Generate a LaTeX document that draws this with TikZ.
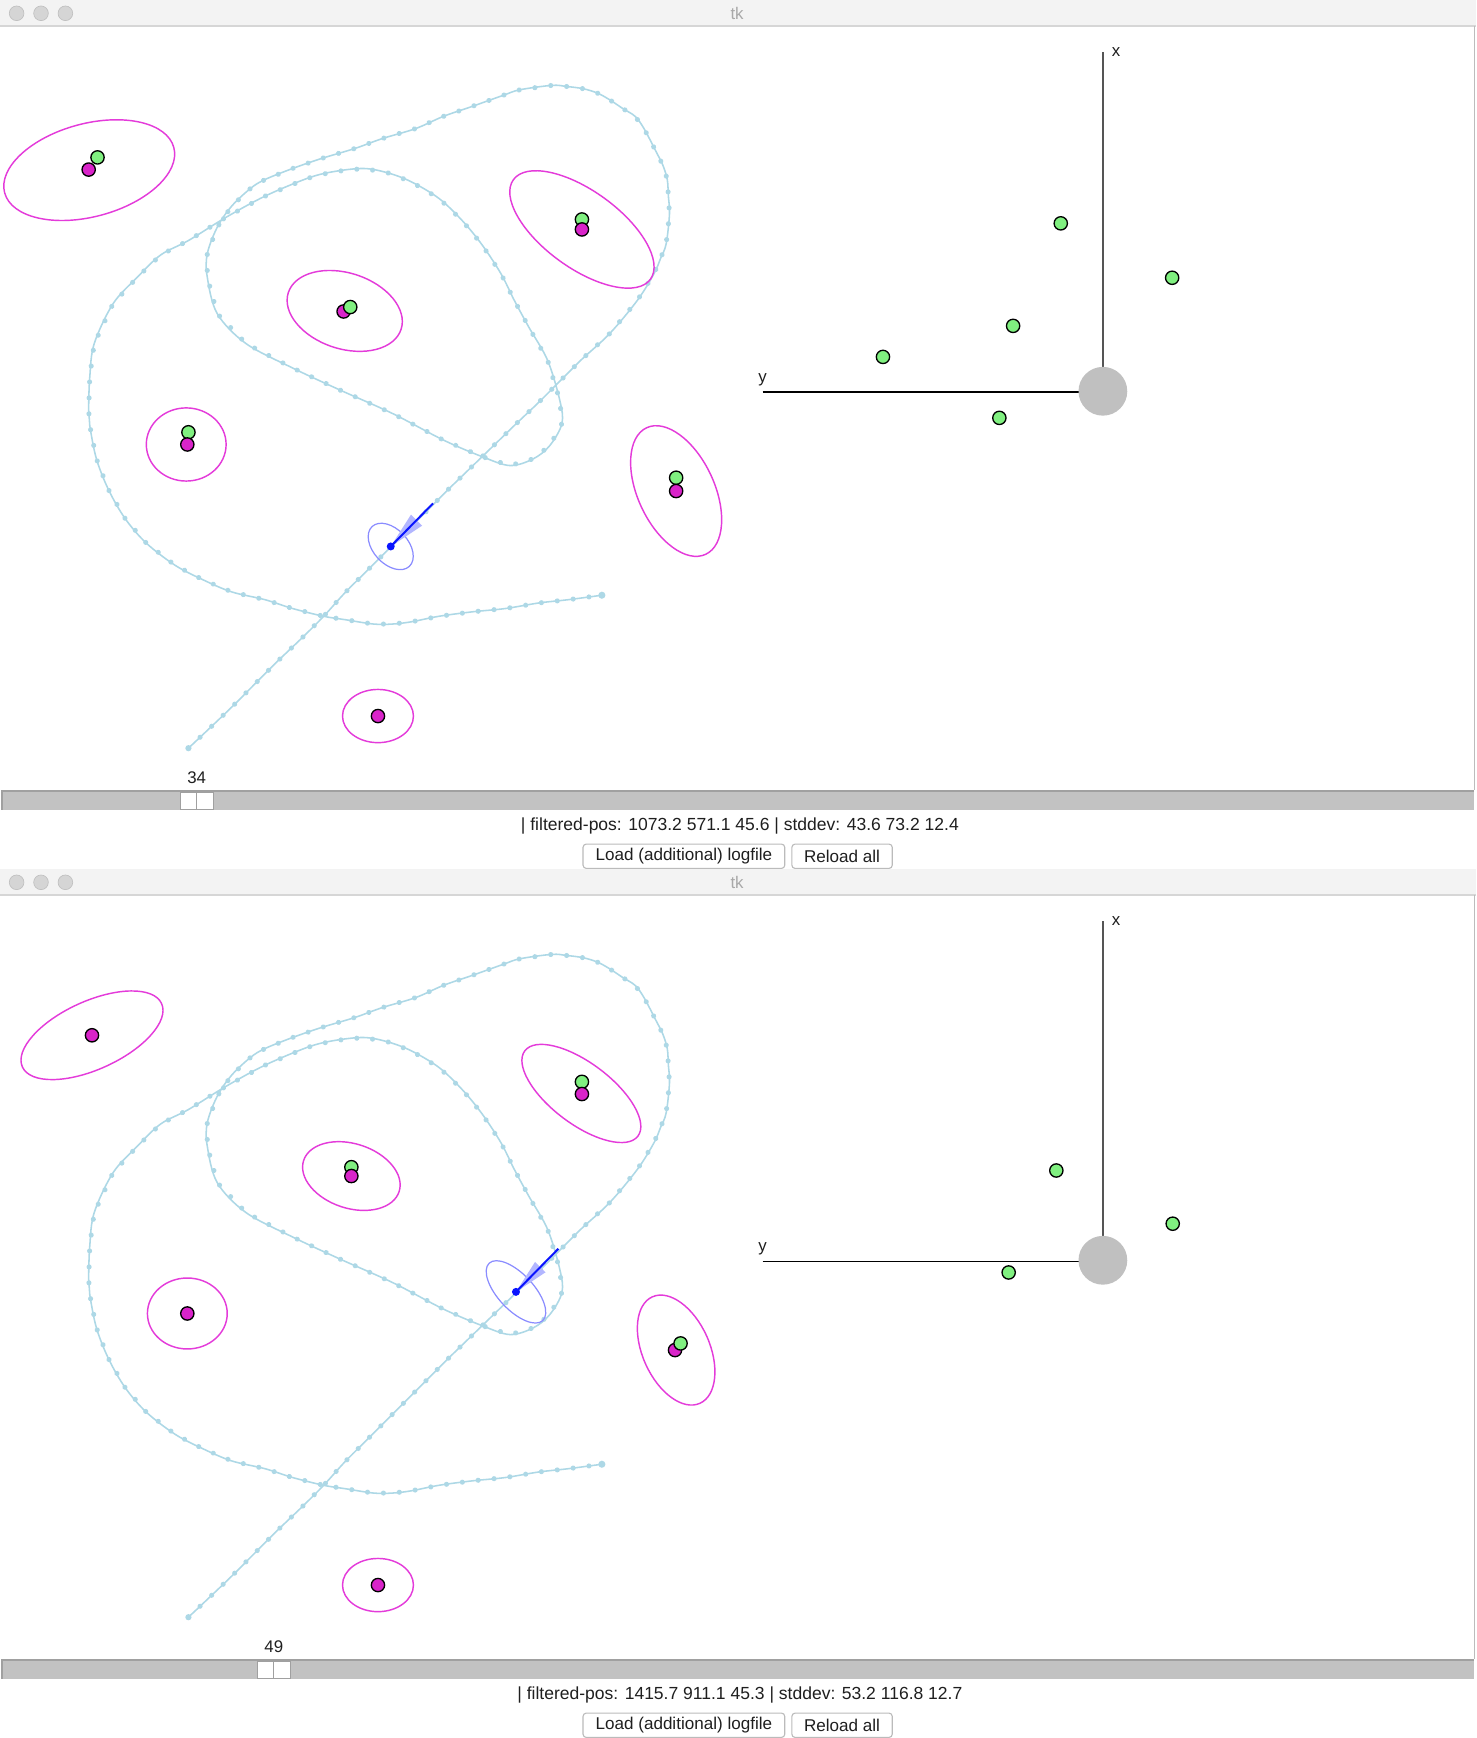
\documentclass[tikz,border=0pt]{standalone}
\usepackage{fontspec}
\setmainfont{Liberation Sans}
\usetikzlibrary{decorations.markings}
\definecolor{trajc}{HTML}{ADD8E6}
\definecolor{lmmag}{HTML}{D924C9}
\definecolor{ellmag}{HTML}{E43BDA}
\definecolor{lmgreen}{HTML}{80F080}
\definecolor{robc}{HTML}{0A14FF}
\definecolor{robell}{HTML}{8A8CFF}
\definecolor{wedgec}{HTML}{B2B6FF}
\definecolor{barbg}{HTML}{F3F3F3}
\definecolor{barline}{HTML}{D6D6D6}
\definecolor{lightc}{HTML}{D5D5D5}
\definecolor{troughc}{HTML}{C2C2C2}
\definecolor{troughedge}{HTML}{A0A0A0}
\definecolor{btnedge}{HTML}{BBBBBB}
\definecolor{titlegray}{HTML}{A8A8A8}
\definecolor{axgray}{HTML}{555555}
\definecolor{robotgray}{HTML}{C0C0C0}
\newcommand\trajpoints{(170,675) (187,659) (209,638) (230,617) (251,596) (273,575) (292,556) (311,535)
      (332,514) (354,492) (373,473) (392,454) (405,441) (435,412) (466,382) (485,364)
      (503,346) (524,325) (550,301) (575,271) (590,247) (596,233) (601,220) (604,193)
      (603,177) (602,162) (598,149) (592,137) (581,116) (573,105) (562,98) (550,90)
      (539,84) (526,80) (511,78) (498,77) (469,81) (454,86) (426,96) (400,105)
      (375,116) (345,125) (320,134) (290,143) (264,152) (239,162) (226,170) (209,186)
      (196,205) (187,229) (187,250) (196,283) (222,310) (264,332) (307,352) (354,373)
      (400,397) (435,412) (460,420) (481,414) (496,402) (507,382) (505,361) (494,325)
      (477,295) (464,271) (452,247) (435,221) (417,199) (396,179) (371,164) (350,156)
      (328,152) (300,155) (277,161) (239,177) (204,196) (170,217) (145,230) (124,250)
      (102,274) (85,310) (81,340) (80,370) (81,384) (87,414) (98,442) (113,468)
      (132,490) (158,510) (183,523) (209,534) (239,541) (264,549) (292,556) (311,559)
      (337,563) (354,563) (371,561) (396,556) (426,552) (456,549) (486,544) (513,541)
      (543,537)}
\tikzset{
  uitext/.style={inner sep=0pt, font=\fontsize{7.6}{9}\selectfont, text=black!88},
  infotext/.style={inner sep=0pt, font=\fontsize{7.9}{9}\selectfont, text=black!88},
  trajline/.style={draw=trajc, line width=0.7pt},
  trajmarks/.style={decorate, decoration={markings,
      mark=between positions 0 and 1 step 7.2pt with {\fill[trajc] (0,0) circle (1.15pt);}}},
  dotline/.style={draw=black, line width=0.6pt},
  ellline/.style={draw=ellmag, line width=0.65pt},
  btnbox/.style={draw=btnedge, fill=white, rounded corners=1.5pt, line width=0.5pt,
    minimum height=11pt, inner sep=0pt, font=\fontsize{7.7}{9}\selectfont, text=black!88},
}
\newcommand\trajectory{%
  \draw[trajline] plot[smooth, tension=0.55] coordinates {\trajpoints};
  \path[trajmarks] plot coordinates {\trajpoints};
  \fill[trajc] (543,537) circle (1.6pt);
  \fill[trajc] (170,675) circle (1.4pt);
}
\newcommand\lmmag[1]{\filldraw[fill=lmmag, dotline] (#1) circle (3pt);}
\newcommand\lmgrn[1]{\filldraw[fill=lmgreen, dotline] (#1) circle (3pt);}
\newcommand\lmell[4]{\draw[ellline, rotate around={#4:(#1)}] (#1) ellipse (#2 and #3);}
% center, a, b, rotation, heading angle, wedge radius
\newcommand\robotpose[6]{%
  \draw[robell, line width=0.55pt, rotate around={#4:(#1)}] (#1) ellipse (#2 and #3);
  \fill[wedgec] (#1) -- +(#5+12:#6) -- +(#5-12:#6) -- cycle;
  \draw[robc, line width=0.9pt] (#1) -- +(#5:54.5);
  \fill[robc] (#1) circle (1.8pt);
}
% slider label, handle left x, info text, name suffix
\newcommand\panelchrome[4]{%
  \fill[barbg] (0,0) rectangle (1332,23.5);
  \draw[barline, line width=0.6pt] (0,23.5) -- (1332,23.5);
  \filldraw[fill=lightc, draw=lightc!90!black, line width=0.3pt] (15,12) circle (3.3pt);
  \filldraw[fill=lightc, draw=lightc!90!black, line width=0.3pt] (37,12) circle (3.3pt);
  \filldraw[fill=lightc, draw=lightc!90!black, line width=0.3pt] (59,12) circle (3.3pt);
  \node[uitext, text=titlegray] (title#4) at (665,12) {tk};
  \draw[troughedge!70, line width=0.5pt] (1330.5,23.5) -- (1330.5,713);
  \fill[troughc] (1.5,713) rectangle (1329.5,731);
  \draw[troughedge, line width=0.6pt] (1.5,713.6) -- (1329.5,713.6);
  \draw[troughedge, line width=0.5pt] (1.8,713) -- (1.8,731);
  \filldraw[fill=white, draw=troughedge, line width=0.4pt] (#2,715) rectangle ++(15,15);
  \filldraw[fill=white, draw=troughedge, line width=0.4pt] (#2+15,715) rectangle ++(15,15);
  \node[uitext] (slider#4) at (#2+15,702) {#1};
  \node[infotext] (info#4) at (667.5,745.5) {#3};
  \node[btnbox, minimum width=91pt] (load#4) at (617,772.5) {Load (additional) logfile};
  \node[btnbox, minimum width=45.3pt] (reload#4) at (759.7,772.5) {Reload all};
  % right-hand panel axes
  \draw[axgray, line width=0.6pt] (995,47) -- (995,340);
  \draw[black, line width=0.8pt] (688,354) -- (975,354);
  \fill[robotgray] (995,353) circle (11pt);
  \node[uitext] (xlab#4) at (1007,47) {x};
  \node[uitext] (ylab#4) at (688,343) {y};
}

\begin{document}
\begin{tikzpicture}[x=0.5pt, y=-0.5pt]
\useasboundingbox (0,0) rectangle (1332,1568);
\fill[white] (0,0) rectangle (1332,1568);

% ================= panel 1 =================
\begin{scope}
  \panelchrome{34}{162.5}{| filtered-pos: 1073.2 571.1 45.6 | stddev: 43.6 73.2 12.4}{A}
  \trajectory
  \lmell{80.5,153.5}{79}{42}{15}
  \lmell{311,280.5}{53.5}{34.2}{-18}
  \lmell{525,207}{76.4}{34.7}{-36}
  \lmell{168,401}{36}{33}{0}
  \lmell{610,443}{63}{34.5}{-65}
  \lmell{341,646}{32}{24}{0}
  \lmmag{80,153} \lmgrn{88,142}
  \lmmag{310,281} \lmgrn{316,277}
  \lmgrn{525,198} \lmmag{525,207}
  \lmgrn{170,390} \lmmag{169,401}
  \lmgrn{610,431} \lmmag{610,443}
  \lmmag{341,646}
  \robotpose{352.5,493}{24.6}{15.7}{-47}{-45.5}{34}
  % right panel landmarks
  \lmgrn{957,201.5} \lmgrn{1057.5,250.6} \lmgrn{914,294} \lmgrn{796.6,322} \lmgrn{901.6,377}
\end{scope}

% ================= panel 2 =================
\begin{scope}[shift={(0,784)}]
  \panelchrome{49}{232}{| filtered-pos: 1415.7 911.1 45.3 | stddev: 53.2 116.8 12.7}{B}
  \trajectory
  \lmell{83,150}{69}{30.7}{24.5}
  \lmell{317,277}{45.3}{29.1}{-18}
  \lmell{524.5,202.5}{63.9}{27.5}{-37}
  \lmell{169,401}{36}{32}{0}
  \lmell{610,434}{52.6}{30.3}{-66}
  \lmell{341,646}{32}{24}{0}
  \lmmag{83,150}
  \lmgrn{317,269} \lmmag{317,277}
  \lmgrn{525,192} \lmmag{525,203}
  \lmmag{169,401}
  \lmmag{609,434} \lmgrn{614,428}
  \lmmag{341,646}
  \robotpose{465.5,381.5}{35.4}{16.1}{-47}{-45.5}{32}
  % right panel landmarks
  \lmgrn{953,272} \lmgrn{1058,320} \lmgrn{910,364}
\end{scope}
\end{tikzpicture}
\end{document}
